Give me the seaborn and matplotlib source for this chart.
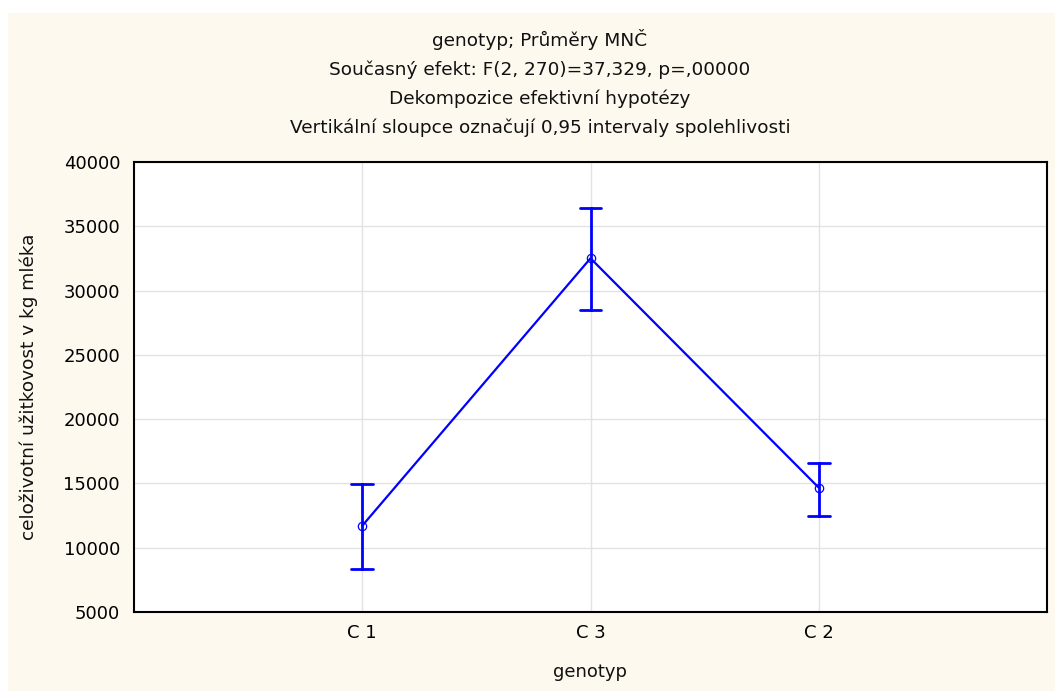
import numpy as np
import pandas as pd
import matplotlib
matplotlib.use("Agg")
import matplotlib.pyplot as plt
from matplotlib.patches import Rectangle
import seaborn as sns

# Group means with 0.95 confidence limits
genotypes = ["C 1", "C 3", "C 2"]
means = [11710, 32510, 14670]
ci_lower = [8340, 28520, 12470]
ci_upper = [14960, 36420, 16620]

title_lines = [
    "genotyp; Průměry MNČ",
    "Současný efekt: F(2, 270)=37,329, p=,00000",
    "Dekompozice efektivní hypotézy",
    "Vertikální sloupce označují 0,95 intervaly spolehlivosti",
]
y_ticks = [5000, 10000, 15000, 20000, 25000, 30000, 35000, 40000]

# Long table: median of (lower, mean, upper) is the mean, full range is the CI
rows = []
for g, lo, m, hi in zip(genotypes, ci_lower, means, ci_upper):
    for v in (lo, m, hi):
        rows.append({"genotyp": g, "value": v})
df = pd.DataFrame(rows)

sns.set_theme(style="white")
plt.rcParams["font.family"] = ["DejaVu Sans"]

W, H = 1055, 691
fig = plt.figure(figsize=(W / 100, H / 100), dpi=100, facecolor="white")
fig.patches.append(Rectangle((8 / W, 0), 1 - 8 / W, 1 - 13 / H,
                             transform=fig.transFigure, facecolor="#fdf9ef",
                             edgecolor="none", zorder=-10))

ax = fig.add_axes([134 / W, 1 - 612 / H, (1047 - 134) / W, (612 - 162) / H])
ax.set_facecolor("white")

sns.pointplot(data=df, x="genotyp", y="value", order=genotypes,
              estimator=np.median, errorbar=("pi", 100),
              color="#0000ff", markers="o", capsize=0.095,
              linewidth=1.6, markersize=6,
              markerfacecolor="none", markeredgewidth=0.9,
              err_kws={"linewidth": 2.0}, ax=ax)

ax.set_xlim(-1, 3)
ax.set_ylim(5000, 40000)
ax.set_yticks(y_ticks)
ax.set_yticklabels([str(t) for t in y_ticks])
ax.grid(True, color="#e2e2e2", linewidth=1.0)
ax.set_axisbelow(True)
for s in ax.spines.values():
    s.set_color("black")
    s.set_linewidth(1.5)
ax.tick_params(axis="both", direction="in", length=4, width=1, colors="black",
               labelsize=13, pad=10)
ax.tick_params(axis="x", pad=9)

ax.set_xlabel("genotyp", fontsize=13, color="#111111", labelpad=15)
ax.set_ylabel("celoživotní užitkovost v kg mléka", fontsize=13.3,
              color="#111111", labelpad=18)

for i, line in enumerate(title_lines):
    fig.text(540 / W, 1 - (40 + 29.3 * i) / H, line, ha="center", va="center",
             fontsize=13.3, color="#111111")

fig.savefig("out.png", dpi=100, facecolor=fig.get_facecolor())
